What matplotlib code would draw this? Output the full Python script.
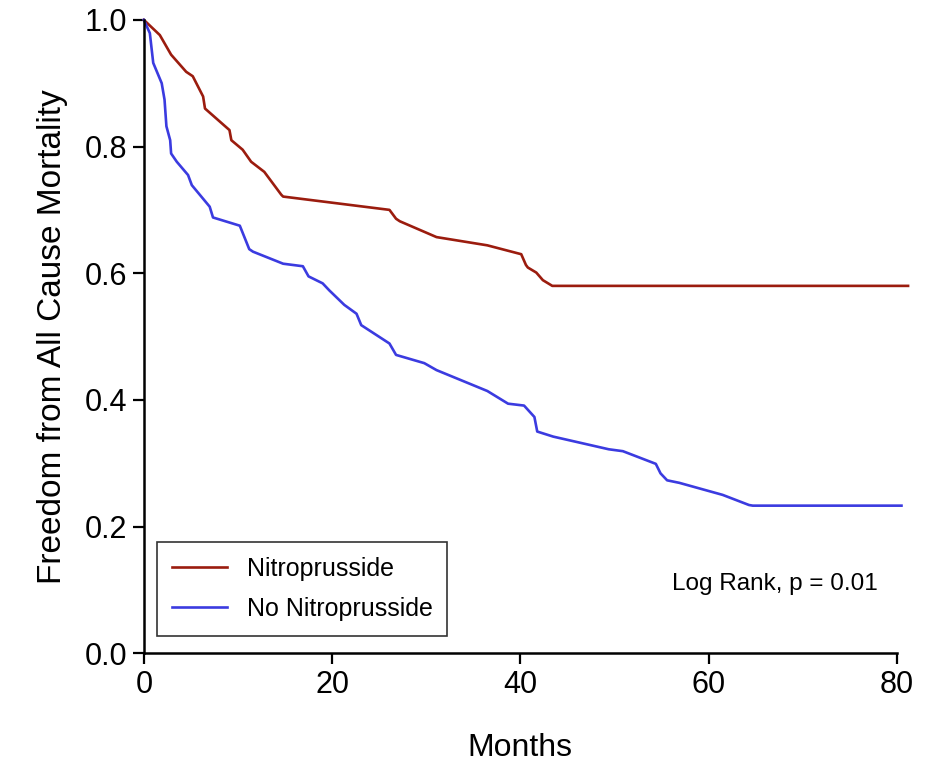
import matplotlib
matplotlib.use('Agg')
import matplotlib.pyplot as plt

nitro_months = [0, 1.7, 2.9, 4.5, 5.2, 6.3, 6.5, 9.1, 9.3, 10.5, 11.4, 12.8, 14.6, 14.8,
                26.1, 26.8, 27.2, 31.1, 36.5, 40.1, 40.6, 40.8, 41.7, 42.4, 43.4, 81.2]
nitro_surv = [1.0, 0.976, 0.945, 0.918, 0.911, 0.879, 0.860, 0.826, 0.810, 0.795, 0.776, 0.760, 0.724, 0.721,
              0.700, 0.686, 0.682, 0.657, 0.644, 0.630, 0.613, 0.609, 0.601, 0.589, 0.580, 0.580]

no_nitro_months = [0, 0.64, 0.8, 1.0, 1.9, 2.2, 2.4, 2.8, 2.9, 3.5, 4.7, 5.1, 7.0, 7.35, 10.2,
                   11.2, 11.6, 14.8, 16.9, 17.5, 19.0, 19.7, 21.3, 22.6, 23.1, 26.1, 26.8, 29.8,
                   31.1, 36.5, 38.7, 40.4, 41.5, 41.8, 43.5, 49.4, 50.9, 54.4, 54.9, 55.6, 56.9,
                   61.5, 64.3, 64.7, 80.5]
no_nitro_surv = [1.0, 0.979, 0.958, 0.932, 0.900, 0.874, 0.832, 0.810, 0.789, 0.776, 0.755, 0.739, 0.705, 0.688, 0.675,
                 0.638, 0.634, 0.615, 0.611, 0.595, 0.584, 0.573, 0.550, 0.536, 0.518, 0.489, 0.471, 0.458,
                 0.447, 0.414, 0.394, 0.391, 0.373, 0.350, 0.342, 0.322, 0.319, 0.299, 0.284, 0.273, 0.269,
                 0.250, 0.234, 0.233, 0.233]

x_ticks = [0, 20, 40, 60, 80]
y_ticks = [0.0, 0.2, 0.4, 0.6, 0.8, 1.0]

font = ['Liberation Sans', 'DejaVu Sans']

fig = plt.figure(figsize=(9.4, 7.64), dpi=100)
ax = fig.add_axes([0.153, 0.145, 0.801, 0.829])

ax.plot(nitro_months, nitro_surv, color='#9b1c0e', lw=1.9, label='Nitroprusside', clip_on=False)
ax.plot(no_nitro_months, no_nitro_surv, color='#3b3be0', lw=1.9, label='No Nitroprusside', clip_on=False)

ax.set_xlim(0, 80)
ax.set_ylim(0, 1.0)
ax.set_xticks(x_ticks)
ax.set_yticks(y_ticks)
ax.set_xticklabels([str(t) for t in x_ticks], family=font, fontsize=22)
ax.set_yticklabels(['%.1f' % t for t in y_ticks], family=font, fontsize=22)

for s in ['top', 'right']:
    ax.spines[s].set_visible(False)
for s in ['left', 'bottom']:
    ax.spines[s].set_linewidth(1.8)
ax.tick_params(direction='out', length=8, width=1.6, pad=4)

ax.set_xlabel('Months', family=font, fontsize=23, labelpad=24)
ax.set_ylabel('Freedom from All Cause Mortality', family=font, fontsize=24, labelpad=12)

leg = ax.legend(loc='lower left', bbox_to_anchor=(0.017, 0.027), borderaxespad=0,
                prop={'family': font, 'size': 18},
                fancybox=False, edgecolor='black', handlelength=2.2, borderpad=0.6,
                labelspacing=0.65, handletextpad=0.8)
leg.get_frame().set_linewidth(1.2)

ax.text(67, 0.109, 'Log Rank, p = 0.01', family=font, fontsize=17.5, ha='center', va='center')

fig.savefig('out.png', dpi=100)
